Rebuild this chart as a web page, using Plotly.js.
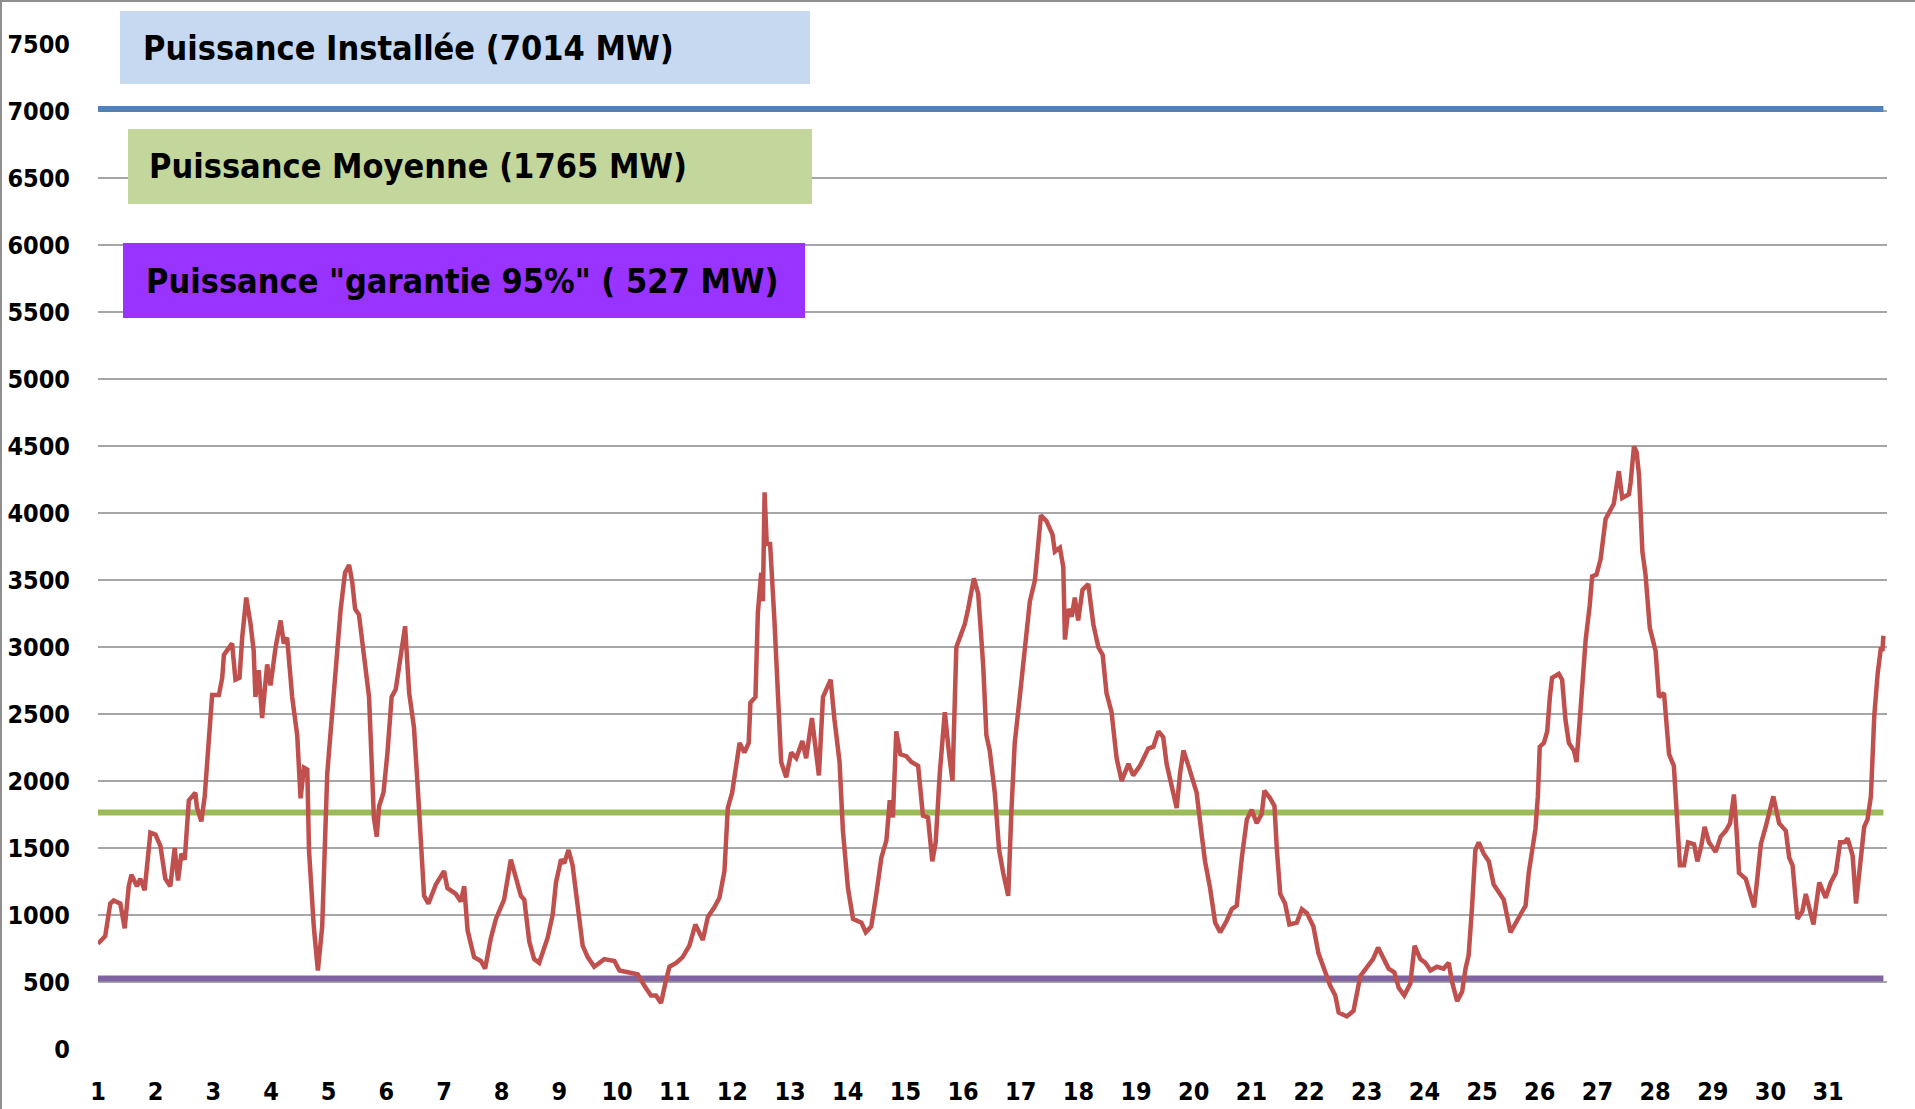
<!DOCTYPE html>
<html>
<head>
<meta charset="utf-8">
<script src="https://cdn.plot.ly/plotly-3.0.1.min.js"></script>
<style>
  html, body { margin: 0; padding: 0; background: #ffffff; }
  #wrap { position: relative; width: 1915px; height: 1109px; overflow: hidden; }
  #chart { position: absolute; left: 0; top: 0; width: 1915px; height: 1109px; }
  #frame { position: absolute; left: 0; top: 0; width: 1915px; height: 1109px; box-sizing: border-box;
           border-left: 2px solid #8f8f8f; border-top: 2px solid #8f8f8f; pointer-events: none; }
</style>
</head>
<body>
<div id="wrap"><div id="chart"></div><div id="frame"></div></div>
<script>
// ---- Data (hour index from start of month, MW) ----
const hourIndex = [
  0,3,5.1,6.5,9.3,11.1,12.8,13.9,16.2,17.6,19.4,21.8,23.9,26,28,30.1,31.9,33.3,34.7,36.1,37.8,40.5,41.2,43,44.4,
  46.1,47.5,50.3,51.7,52.4,54.4,55.8,57.2,58.9,60,61.7,63.5,64.8,65.5,66.9,68.3,70.4,71.8,73.9,76,77.3,78.7,80.8,
  82.9,84.3,85.7,87.1,87.8,89.8,91.5,93.3,95.4,98.2,101,102.8,104.5,105.8,107,108.6,110.7,112.8,114.8,116,117,
  118.8,120.4,122.2,123.9,126,127.8,129.5,131.5,132.9,134.3,135.7,137.5,140.6,144,145.4,148.9,151,152.4,153.8,
  156.5,159.3,161.1,163.5,165.6,169,171.8,173.9,176,177.4,179.5,181.5,183.6,187.1,189.2,190.6,192.7,194,195.8,
  197.5,199.6,201.7,203.8,206.5,210.7,214.9,217,221.1,224.6,227.4,230.1,232.2,234.3,236.4,237.8,240.6,243.3,
  246.1,248.6,251.7,253.8,256.5,258.6,260.7,262.1,263.9,265.6,267,269,270.8,271.5,273.6,274.6,276,276.7,277.4,
  278.3,279.7,281.5,282.9,284.3,286.4,288.5,290.6,293.1,294.7,297.1,300,301.7,303.1,304.9,306.5,308.6,310,312.1,
  314.2,317.7,319.5,321.8,323.9,326,328.1,329.5,330.8,332.2,333.9,336.4,338.5,341.3,343.3,345.4,347.2,348.6,
  350.3,352.4,354.2,355.6,357.2,359.3,360.7,362.1,364.5,366.3,368.4,369.7,371.1,373.2,375,376.7,378.8,380.1,
  381.5,383.6,385.7,387.8,389.9,391.3,392.4,394.7,397.2,398.2,400.3,401.7,402.4,403.8,405.2,406.5,407.9,409.7,
  412.1,414.2,416.3,418.1,419.7,421.8,423.9,426,428.8,430.8,433.6,437.1,439.2,441.3,443.3,444.7,446.8,448.9,
  450.3,451.7,453.8,455.8,457.2,459.3,460.7,462.8,464.9,467,469.7,471.8,473.9,476,478.1,480.1,482.2,484.3,
  485.4,487.8,489.6,490.6,492,494,495.8,498.9,501,503.1,505.8,507.9,510,512.8,514.9,516.3,519.7,522.5,525.3,
  528.1,530.6,532.7,535,537.1,539.5,541.3,543.6,546.1,547.9,550.3,552.4,554.5,557.2,560,562.1,563.5,565.6,
  567.7,569.1,570.4,571.8,573.2,574.6,576.7,578.8,580.8,582.9,585,587.8,589.9,592,594.1,595.4,596.8,598.2,
  599.2,600,601.7,603.1,604.2,605.1,607.9,609.3,610.7,612.1,614.2,615.3,617,618.1,619.1,620.8,621.8,623.6,
  625.3,627.4,628.8,630.8,632.9,634.3,637.1,637.8,639.2,640.3,641.3,642.7,644,645.8,648.2,649.6,651.7,653.8,
  655.8,657,658.3,660,661.7,664.2,665.6,667.2,668.6,670.4,673.2,675.3,677.4,679.2,680.8,682,682.9,685.7,687.5,
  689.2,690.6,692,694,695.4,697.2,699.6,702.4,703.8,705.2,707.2,709.3,710.7,712.1,713.9,716.3,719,721.1,723.2,
  725,726.7,728.1,730.2,731.6,733.6,735,736.4,737.8,739.2,740.6,742,742.6,743
];
const powerMW = [
  786,843,1085,1108,1085,900,1214,1300,1214,1271,1185,1614,1600,1514,1271,1214,1500,1257,1457,1414,1856,1913,1800,1699,1884,
  2370,2641,2641,2770,2941,2984,3027,2756,2770,3070,3369,3170,2970,2627,2827,2470,2870,2713,2998,3198,3027,3070,2627,
  2342,1871,2099,2085,1485,914,586,914,2056,2684,3284,3555,3612,3484,3284,3241,2913,2627,1728,1585,1813,
  1913,2199,2627,2684,2941,3155,2656,2399,2000,1485,1143,1085,1228,1328,1200,1157,1100,1214,886,
  686,657,600,829,971,1114,1414,1285,1143,1114,800,671,643,829,1000,1243,1414,1385,1485,
  1371,1057,771,686,614,671,657,586,571,557,471,400,400,343,514,614,643,686,
  771,929,814,986,1057,1128,1328,1799,1913,2099,2284,2213,2284,2584,2627,3255,3555,3341,4155,
  3769,3769,3198,2656,2142,2028,2213,2170,2299,2170,2470,2042,2627,2684,2756,2456,2142,1628,1200,
  971,943,871,914,1157,1428,1557,1856,1728,2370,2199,2185,2142,2113,1742,1728,1400,1542,
  2056,2513,2199,2000,2998,3112,3170,3284,3512,3398,2856,2342,2227,1913,1485,1314,1143,1771,
  2284,2627,3027,3341,3498,3769,3983,3940,3841,3712,3741,3598,3055,3284,3227,3369,3198,3427,
  3469,3170,2998,2941,2656,2513,2170,2000,2128,2042,2113,2242,2256,2370,2327,2128,1970,1799,
  2056,2227,2113,2000,1913,1599,1400,1200,943,871,957,1043,1071,1428,1714,1785,1685,1756,
  1928,1871,1813,1485,1157,1085,929,943,1043,1014,914,714,600,472,400,272,243,286,543,
  614,671,757,671,600,571,457,400,486,771,671,643,586,614,600,643,500,357,
  429,600,700,1057,1485,1542,1457,1400,1228,1171,1114,871,943,1000,1071,1314,1457,1642,
  1885,2256,2284,2370,2627,2770,2799,2756,2456,2284,2227,2142,2541,2827,3055,3312,3527,3541,
  3655,3955,3998,4069,4312,4112,4140,4226,4497,4454,4283,3712,3541,3141,2970,2627,2656,2199,
  2113,1771,1371,1371,1542,1528,1400,1514,1657,1542,1471,1585,1628,1685,1899,1599,1314,1271,1157,
  1057,1285,1528,1657,1771,1885,1685,1628,1428,1371,971,1028,1157,1057,929,1243,1128,1243,1314,
  1542,1542,1571,1442,1085,1428,1657,1714,1885,2484,2799,2998,2970,3084
];
const installedMW = 7014;
const averageMW = 1765;
const guaranteedMW = 527;
const dayTickHours = [0,24,48,72,96,120,144,168,192,216,240,264,288,312,336,360,384,408,432,456,480,504,528,552,576,600,624,648,672,696,720];
const dayTickLabels = ['1','2','3','4','5','6','7','8','9','10','11','12','13','14','15','16','17','18','19','20','21','22','23','24','25','26','27','28','29','30','31'];
const yTicks = [0,500,1000,1500,2000,2500,3000,3500,4000,4500,5000,5500,6000,6500,7000,7500];
const boxLabels = ['Puissance Installée (7014 MW)', 'Puissance Moyenne (1765 MW)', 'Puissance "garantie 95%" ( 527 MW)'];

// ---- Layout geometry (pixels) ----
const W = 1915, H = 1109;
const M = { l: 98, r: 28, t: 44, b: 60 };
const plotW = W - M.l - M.r, plotH = H - M.t - M.b;
const px = x => (x - M.l) / plotW;
const py = y => (H - M.b - y) / plotH;

const boxes = [
  { x0: 120, x1: 810, y0: 11, y1: 84, fill: '#c6d9f1', tx: 141 },
  { x0: 128, x1: 812, y0: 129, y1: 204, fill: '#c3d69b', tx: 147 },
  { x0: 123, x1: 805, y0: 243, y1: 318, fill: '#9933ff', tx: 144 }
];

const xSpan = [hourIndex[0], hourIndex[hourIndex.length - 1]];
const traces = [
  { x: xSpan, y: [installedMW, installedMW], mode: 'lines', line: { color: '#4f81bd', width: 6 }, hoverinfo: 'skip' },
  { x: xSpan, y: [averageMW, averageMW], mode: 'lines', line: { color: '#9bbb59', width: 6 }, hoverinfo: 'skip' },
  { x: xSpan, y: [guaranteedMW, guaranteedMW], mode: 'lines', line: { color: '#8064a2', width: 6 }, hoverinfo: 'skip' },
  { x: hourIndex, y: powerMW, mode: 'lines', line: { color: '#c0504d', width: 4.5 }, hoverinfo: 'skip' }
];

const fam = '"DejaVu Sans Condensed", "DejaVu Sans", sans-serif';
const tickFont = { family: fam, size: 25, color: '#000000', weight: 'bold' };

const layout = {
  width: W, height: H,
  margin: M,
  paper_bgcolor: '#ffffff', plot_bgcolor: '#ffffff',
  showlegend: false,
  xaxis: {
    range: [0, 744.5], tickmode: 'array', tickvals: dayTickHours, ticktext: dayTickLabels,
    showgrid: false, zeroline: false, showline: false, ticks: '',
    tickfont: tickFont, ticklabelstandoff: 25, fixedrange: true
  },
  yaxis: {
    range: [0, 7500], tickmode: 'array', tickvals: yTicks,
    showgrid: true, gridcolor: '#a6a6a6', gridwidth: 2, zeroline: false, showline: false, ticks: '',
    tickfont: tickFont, ticklabelstandoff: 27, fixedrange: true
  },
  shapes: boxes.map(b => ({
    type: 'rect', xref: 'paper', yref: 'paper', layer: 'above',
    x0: px(b.x0), x1: px(b.x1), y0: py(b.y1), y1: py(b.y0),
    fillcolor: b.fill, line: { width: 0 }
  })),
  annotations: boxes.map((b, i) => ({
    xref: 'paper', yref: 'paper', x: px(b.tx), y: py((b.y0 + b.y1) / 2),
    xanchor: 'left', yanchor: 'middle', showarrow: false, text: boxLabels[i],
    font: { family: fam, size: 34, color: '#000000', weight: 'bold' }
  }))
};

Plotly.newPlot('chart', traces, layout, { staticPlot: true, displayModeBar: false });
</script>
</body>
</html>
